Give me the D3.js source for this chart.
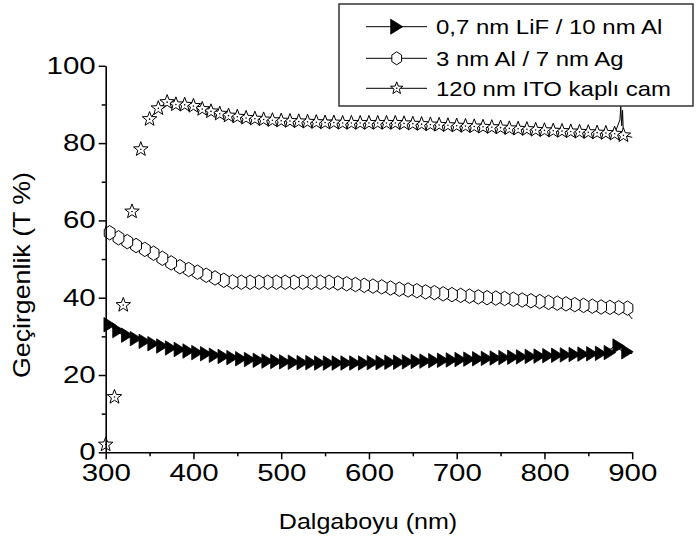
<!DOCTYPE html>
<html>
<head>
<meta charset="utf-8">
<script src="https://cdn.jsdelivr.net/npm/d3@7"></script>
<style>
  body { margin: 0; background: #fff; }
  svg { display: block; }
  text { font-family: "Liberation Sans", Arial, sans-serif; fill: #000; }
</style>
</head>
<body>
<div id="chart"></div>
<script>
// wavelengths where markers are drawn (nm)
const wavelengths = [300, 310, 320, 330, 340, 350, 360, 370, 380, 390,
  400, 410, 420, 430, 440, 450, 460, 470, 480, 490,
  500, 510, 520, 530, 540, 550, 560, 570, 580, 590,
  600, 610, 620, 630, 640, 650, 660, 670, 680, 690,
  700, 710, 720, 730, 740, 750, 760, 770, 780, 790,
  800, 810, 820, 830, 840, 850, 860, 870, 880, 890];

// transmittance (%)
const lifAl = [33.0, 31.5, 30.3, 29.4, 28.7, 28.1, 27.5, 27.0, 26.6, 26.2,
  25.8, 25.5, 25.1, 24.8, 24.5, 24.2, 24.0, 23.8, 23.6, 23.5,
  23.4, 23.3, 23.2, 23.2, 23.1, 23.1, 23.1, 23.1, 23.1, 23.1,
  23.2, 23.2, 23.3, 23.3, 23.4, 23.5, 23.6, 23.7, 23.8, 23.9,
  24.0, 24.1, 24.2, 24.3, 24.4, 24.5, 24.6, 24.7, 24.8, 24.9,
  25.0, 25.1, 25.2, 25.3, 25.4, 25.5, 25.6, 25.8, 27.5, 26.0];

const alAg = [56.8, 55.5, 54.5, 53.5, 52.5, 51.5, 50.2, 49.0, 48.0, 47.3,
  46.6, 45.8, 45.1, 44.5, 44.1, 44.0, 44.0, 44.0, 44.0, 44.0,
  44.0, 44.0, 44.0, 44.0, 44.0, 44.0, 43.8, 43.6, 43.4, 43.2,
  43.0, 42.8, 42.5, 42.2, 42.0, 41.8, 41.5, 41.3, 41.0, 40.8,
  40.6, 40.4, 40.2, 40.0, 39.9, 39.8, 39.6, 39.4, 39.2, 39.0,
  38.8, 38.6, 38.4, 38.2, 38.0, 37.8, 37.6, 37.5, 37.4, 37.3];

const ito = [2.0, 14.3, 38.1, 62.3, 78.4, 86.2, 89.0, 90.6, 90.0, 89.9,
  89.6, 88.8, 88.2, 87.6, 87.1, 86.8, 86.5, 86.3, 86.1, 85.9,
  85.8, 85.7, 85.6, 85.5, 85.4, 85.3, 85.3, 85.2, 85.2, 85.2,
  85.2, 85.2, 85.2, 85.2, 85.1, 85.0, 84.9, 84.8, 84.7, 84.6,
  84.5, 84.4, 84.3, 84.2, 84.1, 84.0, 83.8, 83.7, 83.6, 83.4,
  83.3, 83.2, 83.1, 83.0, 82.9, 82.8, 82.7, 82.6, 82.4, 82.0];

// extra points that only show up in the connecting line (no marker)
const lifAlExtra = [[300, 34.7], [900, 25.5]];
const alAgExtra = [[300, 58.4], [900, 34.5]];
const itoExtra = [[886, 86.0], [887, 89.5], [888, 84.5], [889, 88.5], [900, 81.5]];
// first wavelength of each connecting line (ITO line is not seen below 350 nm)
const lineStart = [300, 300, 350];

const xTicks = [300, 400, 500, 600, 700, 800, 900];
const xMinor = [350, 450, 550, 650, 750, 850];
const yTicks = [0, 20, 40, 60, 80, 100];
const yMinor = [10, 30, 50, 70, 90];
const legendLabels = ["0,7 nm LiF / 10 nm Al", "3 nm Al / 7 nm Ag", "120 nm ITO kaplı cam"];

const width = 698, height = 543;
const x = d3.scaleLinear().domain([300, 900]).range([105.7, 632.2]);
const y = d3.scaleLinear().domain([0, 100]).range([452.3, 65.8]);

const svg = d3.select("#chart").append("svg")
  .attr("width", width).attr("height", height);

// marker shapes
function triPath(r) {
  return `M${-r * 0.8},${-r}L${r * 0.8},0L${-r * 0.8},${r}Z`;
}
function hexPath(r) {
  const pts = d3.range(6).map(i => {
    const a = Math.PI / 2 + i * Math.PI / 3;
    return [r * 0.87 * Math.cos(a), -r * Math.sin(a)];
  });
  return "M" + pts.map(p => p.join(",")).join("L") + "Z";
}
function starPath(r) {
  const pts = d3.range(10).map(i => {
    const a = -Math.PI / 2 + i * Math.PI / 5;
    const rr = i % 2 ? r * 0.42 : r;
    return [rr * Math.cos(a), rr * Math.sin(a)];
  });
  return "M" + pts.map(p => p.join(",")).join("L") + "Z";
}

function drawMarker(g, type, size) {
  if (type === "tri") {
    g.append("path").attr("d", triPath(size)).attr("fill", "#000").attr("stroke", "#000").attr("stroke-width", 0.8);
  } else if (type === "hex") {
    g.append("path").attr("d", hexPath(size)).attr("fill", "#fff").attr("stroke", "#000").attr("stroke-width", 1);
  } else {
    g.append("path").attr("d", starPath(size)).attr("fill", "#fff").attr("stroke", "#000").attr("stroke-width", 1);
    g.append("circle").attr("r", 0.8).attr("fill", "#000");
  }
}

const series = [
  { values: lifAl, extra: lifAlExtra, type: "tri", size: 7.2 },
  { values: alAg, extra: alAgExtra, type: "hex", size: 7.2 },
  { values: ito, extra: itoExtra, type: "star", size: 7.6 }
];

const line = d3.line().x(d => x(d[0])).y(d => y(d[1]));

series.forEach((s, k) => {
  const pts = wavelengths.map((w, i) => [w, s.values[i]]);
  const all = pts.concat(s.extra)
    .filter(p => p[0] >= lineStart[k])
    .sort((a, b) => a[0] - b[0] || 0);
  svg.append("path").datum(all)
    .attr("d", line).attr("fill", "none").attr("stroke", "#000").attr("stroke-width", 1);
  // instrument scans from long to short wavelength: draw right to left
  const g = svg.append("g");
  pts.slice().reverse().forEach(p => {
    const m = g.append("g").attr("transform", `translate(${x(p[0]) + (s.type === "star" ? 0 : 4)},${y(p[1])})`);
    drawMarker(m, s.type, s.size);
  });
});

// axes
const fontTick = 23;
const xAxis = svg.append("g").attr("transform", `translate(0,${y(0)})`)
  .call(d3.axisBottom(x).tickValues(xTicks).tickSize(7).tickSizeOuter(0).tickPadding(5));
svg.append("g").attr("transform", `translate(0,${y(0)})`)
  .call(d3.axisBottom(x).tickValues(xMinor).tickSize(4).tickFormat("").tickSizeOuter(0))
  .select(".domain").remove();
const yAxis = svg.append("g").attr("transform", `translate(${x(300)},0)`)
  .call(d3.axisLeft(y).tickValues(yTicks).tickSize(7).tickSizeOuter(0).tickPadding(3));
svg.append("g").attr("transform", `translate(${x(300)},0)`)
  .call(d3.axisLeft(y).tickValues(yMinor).tickSize(4).tickFormat("").tickSizeOuter(0))
  .select(".domain").remove();

svg.selectAll(".domain").attr("stroke", "#000").attr("stroke-width", 1.6);
svg.selectAll(".tick line").attr("stroke", "#000").attr("stroke-width", 1.5);
svg.selectAll(".tick text")
  .attr("font-family", '"Liberation Sans", Arial, sans-serif')
  .attr("font-size", fontTick).attr("fill", "#000");

function stretch(sel, k) {
  sel.each(function () {
    const len = this.getComputedTextLength();
    d3.select(this).attr("textLength", len * k).attr("lengthAdjust", "spacingAndGlyphs");
  });
}
stretch(xAxis.selectAll(".tick text"), 1.28);
stretch(yAxis.selectAll(".tick text"), 1.28);

// axis titles
svg.append("text")
  .attr("x", 368).attr("y", 529).attr("text-anchor", "middle")
  .attr("font-size", 22).text("Dalgaboyu (nm)")
  .call(s => stretch(s, 1.14));
svg.append("text")
  .attr("transform", "translate(30,275) rotate(-90)")
  .attr("text-anchor", "middle").attr("font-size", 24)
  .attr("textLength", 206).attr("lengthAdjust", "spacingAndGlyphs")
  .text("Geçirgenlik (T %)");

// legend
const lg = svg.append("g");
lg.append("rect").attr("x", 339).attr("y", 4).attr("width", 354).attr("height", 102)
  .attr("fill", "#fff").attr("stroke", "#333").attr("stroke-width", 1.5);
const rowY = [26.7, 58.3, 88.3];
legendLabels.forEach((lab, i) => {
  const r = lg.append("g").attr("transform", `translate(0,${rowY[i]})`);
  r.append("line").attr("x1", 366).attr("x2", 427).attr("stroke", "#000").attr("stroke-width", 1);
  const m = r.append("g").attr("transform", "translate(396.7,0)");
  drawMarker(m, series[i].type, series[i].type === "tri" ? 7.5 : 6.5);
  r.append("text").attr("x", 436).attr("y", 7.5).attr("font-size", 21).text(lab)
    .call(s => stretch(s, 1.14));
});
</script>
</body>
</html>
